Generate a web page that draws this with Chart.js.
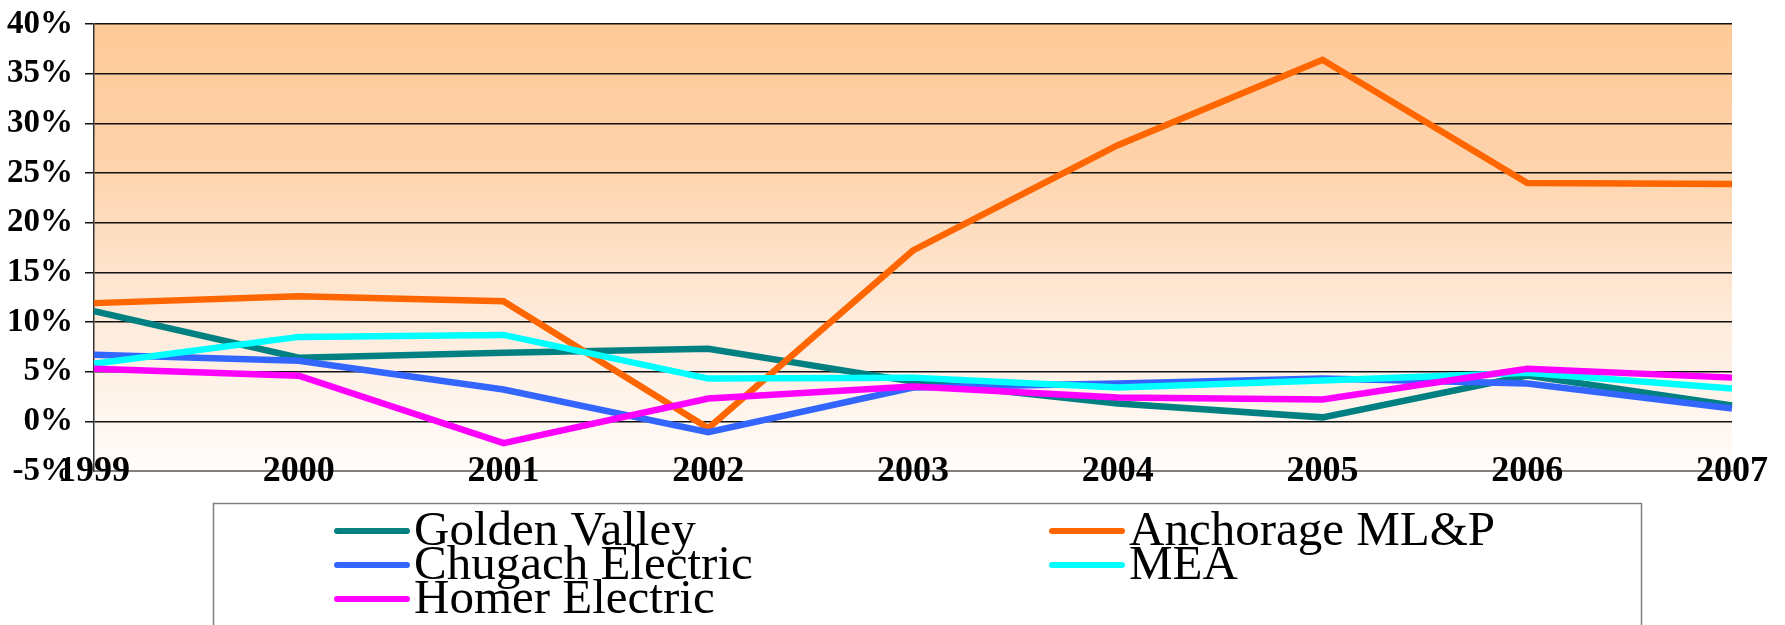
<!DOCTYPE html>
<html>
<head>
<meta charset="utf-8">
<script src="https://cdn.jsdelivr.net/npm/chart.js@4/dist/chart.umd.min.js"></script>
<style>
  html, body { margin: 0; padding: 0; background: #fff; }
  canvas { display: block; }
</style>
</head>
<body>
<canvas id="chart" width="1785" height="625"></canvas>
<script>
const years = ['1999', '2000', '2001', '2002', '2003', '2004', '2005', '2006', '2007'];

const goldenValley    = [11.1, 6.4, 6.9, 7.3, 4.0, 1.8, 0.4, 4.6, 1.6];
const anchorageMLP    = [11.9, 12.6, 12.1, -0.7, 17.2, 27.8, 36.4, 24.0, 23.9];
const chugachElectric = [6.7, 6.1, 3.2, -1.1, 3.4, 3.8, 4.3, 3.8, 1.3];
const mea             = [5.8, 8.5, 8.7, 4.3, 4.4, 3.4, 4.1, 4.9, 3.3];
const homerElectric   = [5.3, 4.6, -2.2, 2.3, 3.5, 2.4, 2.2, 5.3, 4.4];

const seriesNames  = ['Golden Valley', 'Anchorage ML&P', 'Chugach Electric', 'MEA', 'Homer Electric'];
const seriesColors = ['#008080', '#FF6600', '#3366FF', '#00FFFF', '#FF00FF'];
const seriesValues = [goldenValley, anchorageMLP, chugachElectric, mea, homerElectric];

const SERIF = '"Liberation Serif", "Times New Roman", serif';

// peach gradient behind the plot area
const plotBackground = {
    id: 'plotBackground',
    beforeDraw(chart) {
        const { ctx, chartArea: a } = chart;
        const g = ctx.createLinearGradient(0, a.top, 0, a.bottom);
        g.addColorStop(0, '#FFCA98');
        g.addColorStop(0.3, '#FED2AA');
        g.addColorStop(0.65, '#FEEAD9');
        g.addColorStop(1, '#FFFCFA');
        ctx.save();
        ctx.fillStyle = g;
        ctx.fillRect(a.left, a.top, a.right - a.left, a.bottom - a.top);
        ctx.restore();
    }
};

// two-column legend in a box under the chart
const boxLegend = {
    id: 'boxLegend',
    afterDraw(chart) {
        const ctx = chart.ctx;
        ctx.save();
        ctx.strokeStyle = '#808080';
        ctx.lineWidth = 1.5;
        ctx.strokeRect(213.5, 503.5, 1428, 140);

        const colX = [337, 1052];
        const rowY = [531, 565, 599];
        ctx.font = '49px ' + SERIF;
        ctx.textBaseline = 'alphabetic';
        ctx.textAlign = 'left';
        chart.data.datasets.forEach((ds, i) => {
            const x = colX[i % 2];
            const y = rowY[Math.floor(i / 2)];
            ctx.strokeStyle = ds.borderColor;
            ctx.lineWidth = 6;
            ctx.lineCap = 'round';
            ctx.beginPath();
            ctx.moveTo(x, y);
            ctx.lineTo(x + 70, y);
            ctx.stroke();
            ctx.fillStyle = '#000';
            ctx.fillText(ds.label, x + 77, y + 14);
        });
        ctx.restore();
    }
};

new Chart(document.getElementById('chart'), {
    type: 'line',
    data: {
        labels: years,
        datasets: seriesNames.map((name, i) => ({
            label: name,
            data: seriesValues[i],
            borderColor: seriesColors[i],
            backgroundColor: seriesColors[i],
            borderWidth: 6.5,
            pointRadius: 0,
            tension: 0,
            fill: false,
            order: seriesNames.length - i
        }))
    },
    options: {
        responsive: false,
        animation: false,
        devicePixelRatio: 1,
        layout: {
            padding: { top: 24, right: 53, left: 0, bottom: 0 }
        },
        plugins: {
            legend: { display: false },
            tooltip: { enabled: false }
        },
        scales: {
            x: {
                offset: false,
                grid: { display: false, drawTicks: false },
                border: { display: true, color: '#808080', width: 2 },
                ticks: {
                    // mirror keeps the labels unclipped so they can sit on the axis line
                    mirror: true,
                    padding: -22,
                    maxRotation: 0,
                    color: '#000',
                    font: { family: SERIF, size: 36, weight: 'bold' }
                },
                afterFit(scale) { scale.height = 154; }
            },
            y: {
                min: -5,
                max: 40,
                grid: {
                    color: (c) => c.tick && c.tick.value === -5 ? 'rgba(0,0,0,0)' : '#111',
                    lineWidth: 1.5,
                    tickLength: 9,
                    drawTicks: true
                },
                border: { display: true, color: '#333', width: 1.5 },
                ticks: {
                    stepSize: 5,
                    padding: 12,
                    color: '#000',
                    font: { family: SERIF, size: 33, weight: 'bold' },
                    callback: (v) => v + '%'
                },
                afterFit(scale) {
                    scale.width = 94;
                    scale.paddingTop = 0;
                    scale.paddingBottom = 0;
                }
            }
        }
    },
    plugins: [plotBackground, boxLegend]
});
</script>
</body>
</html>
